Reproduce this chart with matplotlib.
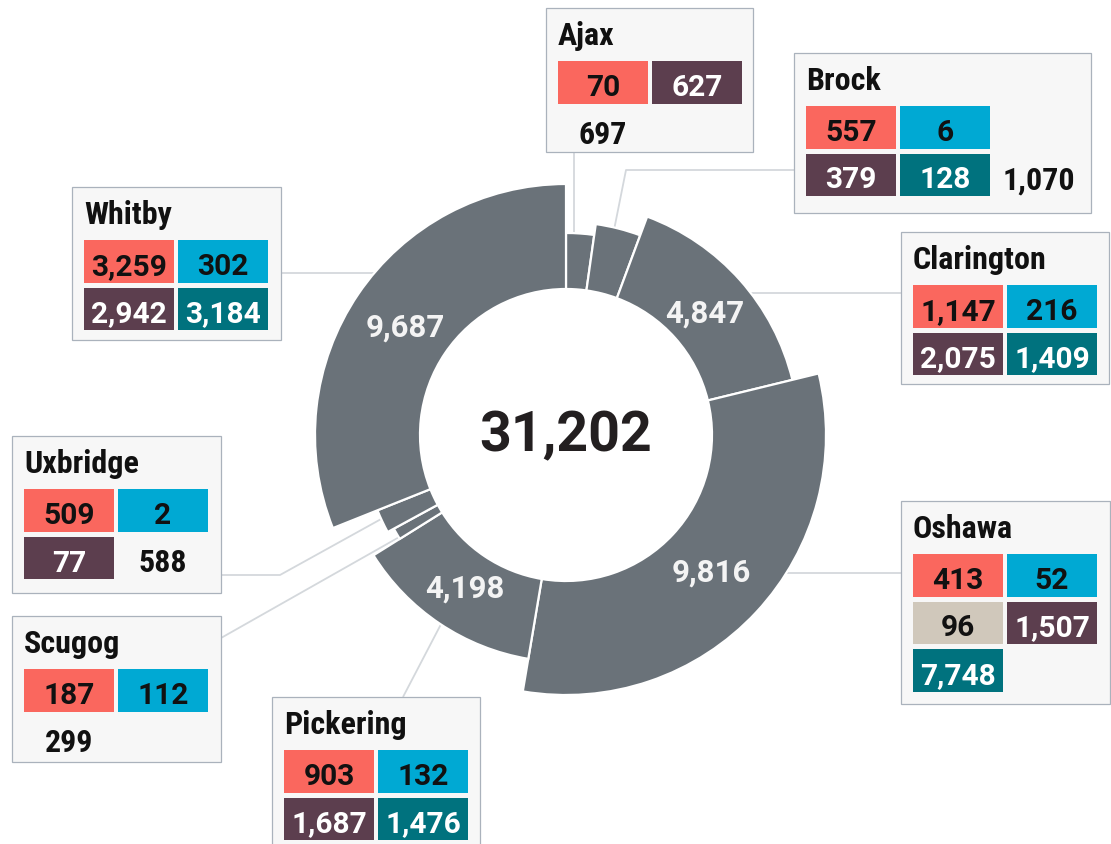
import numpy as np
import matplotlib
matplotlib.use("Agg")
import matplotlib.pyplot as plt
from matplotlib.patches import Wedge, Rectangle
from matplotlib import font_manager

# ---------------- data ----------------
municipalities = ['Ajax', 'Brock', 'Clarington', 'Oshawa', 'Pickering', 'Scugog', 'Uxbridge', 'Whitby']
cat_salmon = [70, 557, 1147, 413, 903, 187, 509, 3259]
cat_cyan = [0, 6, 216, 52, 132, 112, 2, 302]
cat_beige = [0, 0, 0, 96, 0, 0, 0, 0]
cat_purple = [627, 379, 2075, 1507, 1687, 0, 77, 2942]
cat_teal = [0, 128, 1409, 7748, 1476, 0, 0, 3184]
# secondary measure that drives the outer extent of each ring segment
ring_extent = [56, 67, 87, 114, 81, 50, 57, 105]

# ---------------- styles / layout ----------------
cat_colors = ['#fa675e', '#00a9d3', '#d0c8bb', '#5c3e4e', '#00727e']
cat_text = ['#111111', '#111111', '#111111', '#ffffff', '#ffffff']
ring_color = '#6a7279'

names = {f.name for f in font_manager.fontManager.ttflist}
COND = next((n for n in ['Roboto Condensed', 'Liberation Sans Narrow'] if n in names), 'Roboto')
BASE = 'Roboto'
plt.rcParams['font.family'] = [BASE, 'DejaVu Sans']
cond_family = [COND, 'DejaVu Sans']
cond_size = 23 if COND != 'Roboto' else 20.5

W, H = 1111, 844
fig = plt.figure(figsize=(W / 100, H / 100), dpi=100)
ax = fig.add_axes([0, 0, 1, 1])
ax.set_xlim(0, W)
ax.set_ylim(H, 0)
ax.axis('off')

cx, cy = 566, 435
r_in = 146

series = np.array([cat_salmon, cat_cyan, cat_beige, cat_purple, cat_teal])
totals = series.sum(axis=0)
grand = totals.sum()
ends = np.cumsum(totals) / grand * 360.0
starts = np.concatenate([[0], ends[:-1]])

# leader lines (annotation routing), first point lies under the segment
leaders = {
    'Ajax': [(574, 240), (574, 152)],
    'Brock': [(612, 240), (626, 170), (794, 170)],
    'Clarington': [(740, 293), (901, 293)],
    'Oshawa': [(770, 573), (901, 573)],
    'Pickering': [(451, 605), (403, 697)],
    'Scugog': [(410, 531), (221, 638)],
    'Uxbridge': [(392, 513), (280, 575), (221, 575)],
    'Whitby': [(385, 273), (281, 273)],
}
for name in municipalities:
    pts = np.array(leaders[name])
    ax.plot(pts[:, 0], pts[:, 1], color='#d4d8dc', lw=1.3, zorder=1, solid_capstyle='butt')

# ring segments
for i, name in enumerate(municipalities):
    R = r_in + ring_extent[i]
    w = Wedge((cx, cy), R, starts[i] - 90, ends[i] - 90, width=R - r_in,
              facecolor=ring_color, edgecolor='white', lw=1.6, zorder=2)
    ax.add_patch(w)
    if totals[i] > 2000:
        mid = np.deg2rad((starts[i] + ends[i]) / 2)
        rl = (r_in + R) / 2 - 4
        ax.text(cx + rl * np.sin(mid), cy - rl * np.cos(mid) + 2, f'{totals[i]:,}',
                ha='center', va='center', color='#f4f4f4', fontsize=22.5,
                fontweight='bold', zorder=3)

ax.text(cx, cy + 1, f'{grand:,}', ha='center', va='center', fontsize=40,
        fontweight='bold', color='#231f20', zorder=3)

# cut-off headline at the top
ax.text(148, -7, 'process applications', ha='left', va='baseline', fontsize=25,
        color='#2f3a45', zorder=3)

# boxes
box_layout = {
    'Ajax': (546, 8, 207, 144, (0, 1)),
    'Brock': (794, 53, 297, 160, (2, 1)),
    'Clarington': (901, 232, 208, 152, None),
    'Oshawa': (901, 501, 209, 203, None),
    'Pickering': (272, 697, 208, 200, None),
    'Scugog': (12, 616, 209, 146, (0, 1)),
    'Uxbridge': (12, 436, 209, 157, (1, 1)),
    'Whitby': (72, 187, 209, 153, None),
}
cw, ch, sx, sy = 90, 42.7, 94, 47.5
for i, name in enumerate(municipalities):
    left, top, bw, bh, tslot = box_layout[name]
    ax.add_patch(Rectangle((left, top), bw, bh, facecolor='#f7f7f7', edgecolor='#aab2bc',
                           lw=0.9, zorder=4))
    ax.text(left + 12, top + 37, name, ha='left', va='baseline', fontsize=cond_size,
            family=cond_family, fontweight='bold', color='#111111', zorder=5)
    slot = 0
    for k in range(series.shape[0]):
        v = series[k, i]
        if v <= 0:
            continue
        col, row = slot % 2, slot // 2
        x0 = left + 12 + col * sx
        y0 = top + 53 + row * sy
        ax.add_patch(Rectangle((x0, y0), cw, ch, facecolor=cat_colors[k], edgecolor='none', zorder=5))
        ax.text(x0 + cw / 2, y0 + 35, f'{v:,}', ha='center', va='baseline',
                fontsize=21.5, fontweight='bold', color=cat_text[k], zorder=6)
        slot += 1
    if tslot is not None:
        col, row = tslot
        x0 = left + 12 + col * sx
        y0 = top + 53 + row * sy
        ax.text(x0 + cw / 2, y0 + 36, f'{totals[i]:,}', ha='center', va='baseline',
                fontsize=cond_size, family=cond_family, fontweight='bold',
                color='#111111', zorder=6)

fig.savefig('out.png', dpi=100)
